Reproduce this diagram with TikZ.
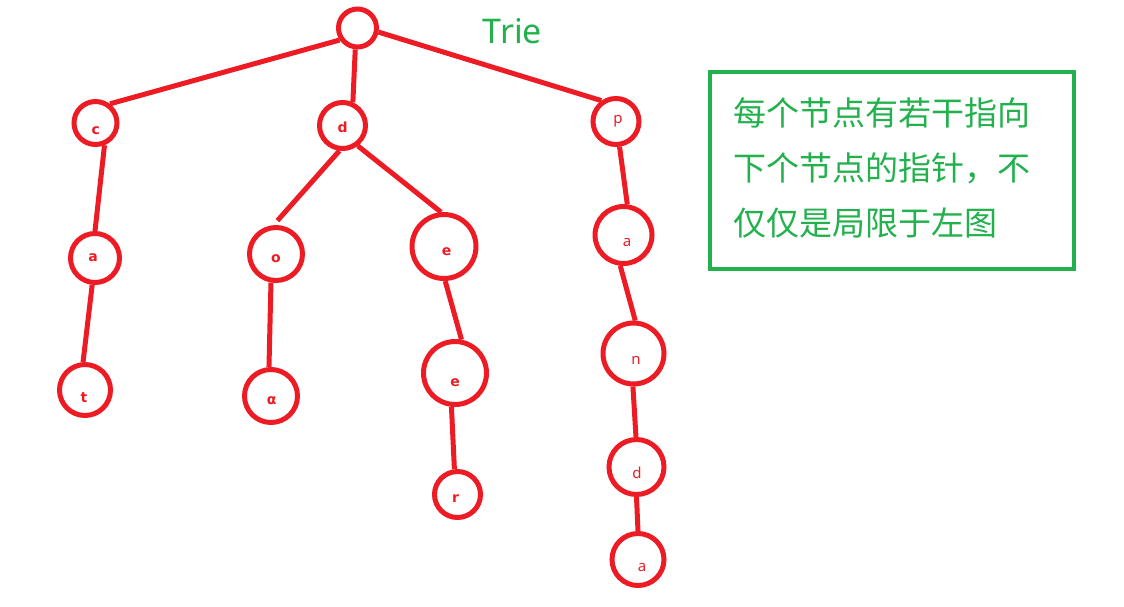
\documentclass[tikz,border=0pt]{standalone}
\usepackage{fontspec}
\setmainfont{Noto Sans}
\newfontfamily\boldlet{DejaVu Sans Bold}
\newfontfamily\cjk{Noto Sans CJK SC}
\definecolor{pred}{HTML}{ED1C24}
\definecolor{pgreen}{HTML}{22B14C}
\begin{document}
\begin{tikzpicture}[x=1pt,y=-1pt,
  tn/.style={circle,draw=pred,line width=5pt,inner sep=0pt,minimum size=#1},
  edge/.style={draw=pred,line width=5pt},
  lb/.style={text=pred,inner sep=0pt,font=\boldlet\fontsize{14}{14}\selectfont},
  lr/.style={text=pred,inner sep=0pt,font=\fontsize{15}{15}\selectfont},
  cn/.style={text=pgreen,inner sep=0pt,anchor=west,font=\cjk\fontsize{33}{33}\selectfont}]
\useasboundingbox (0,0) rectangle (1124,606);
% circles
\node[tn=38] (root) at (357.5,28) {};
\node[tn=43] (c) at (95.5,123) {};
\node[tn=49] (a1) at (95,258) {};
\node[tn=51] (t) at (85,390) {};
\node[tn=46] (d1) at (342.5,125.5) {};
\node[tn=53] (o) at (276,254) {};
\node[tn=53] (al) at (271,396) {};
\node[tn=64] (e1) at (444,246.5) {};
\node[tn=63] (e2) at (455,373) {};
\node[tn=46] (r) at (457.5,494.5) {};
\node[tn=46] (p) at (616,121.5) {};
\node[tn=57] (a2) at (623.5,235) {};
\node[tn=61] (n) at (633.5,353.5) {};
\node[tn=55] (d2) at (636.5,467) {};
\node[tn=52] (a3) at (638,559.5) {};
% letters
\node[lb] (lc) at (95.7,130.5) {c};
\node[lb] (la1) at (93,258) {a};
\node[lb] (lt) at (84,398) {t};
\node[lb] (ld1) at (342.7,127) {d};
\node[lb] (lo) at (276,258.5) {o};
\node[lb] (lal) at (271.7,400.5) {α};
\node[lb] (le1) at (446.5,251.5) {e};
\node[lb] (le2) at (455,382.5) {e};
\node[lb] (lr) at (455.5,499) {r};
\node[lr] (lp) at (618,121) {p};
\node[lr] (la2) at (627,242) {a};
\node[lr] (ln) at (636,360) {n};
\node[lr] (ld2) at (637,473) {d};
\node[lr] (la3) at (642,567) {a};
% edges
\draw[edge] (root.-146) -- (c.53);
\draw[edge] (root.-96) -- (d1.66);
\draw[edge] (root.-11) -- (p.125);
\draw[edge] (c.-68) -- (a1.90);
\draw[edge] (a1.-96) -- (t.94);
\draw[edge,shorten >=6pt] (d1.-97) -- (o.95);
\draw[edge] (d1.-53) -- (e1.95);
\draw[edge] (o.-100) -- (al.94);
\draw[edge] (e1.-88) -- (e2.79);
\draw[edge] (e2.-96) -- (r.97);
\draw[edge] (p.-82) -- (a2.83);
\draw[edge] (a2.-96) -- (n.87);
\draw[edge] (n.-91) -- (d2.91);
\draw[edge] (d2.-90) -- (a3.90);
% title
\node[text=pgreen,inner sep=0pt,font=\fontsize{34}{34}\selectfont] (title) at (512.5,31) {Trie};
% box
\node[draw=pgreen,line width=4pt,minimum width=364pt,minimum height=197pt,inner sep=0pt] (box) at (892,170.5) {};
\node[cn] (t1) at (733,113) {每个节点有若干指向};
\node[cn] (t2) at (733,168.5) {下个节点的指针，不};
\node[cn] (t3) at (733,222.5) {仅仅是局限于左图};
\end{tikzpicture}
\end{document}
